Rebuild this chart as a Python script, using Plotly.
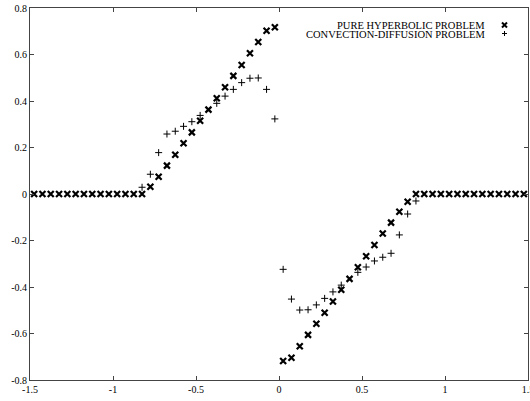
import plotly.graph_objects as go

# grid (cell centres)
x_left_zero = [-1.475, -1.425, -1.375, -1.325, -1.275, -1.225, -1.175, -1.125,
               -1.075, -1.025, -0.975, -0.925, -0.875, -0.825]
x_left = [-0.775, -0.725, -0.675, -0.625, -0.575, -0.525, -0.475, -0.425,
          -0.375, -0.325, -0.275, -0.225, -0.175, -0.125, -0.075, -0.025]
x_right = [0.025, 0.075, 0.125, 0.175, 0.225, 0.275, 0.325, 0.375,
           0.425, 0.475, 0.525, 0.575, 0.625, 0.675, 0.725, 0.775]
x_right_zero = [0.825, 0.875, 0.925, 0.975, 1.025, 1.075, 1.125, 1.175,
                1.225, 1.275, 1.325, 1.375, 1.425, 1.475]

# pure hyperbolic problem
hyp_left = [0.031, 0.074, 0.122, 0.169, 0.218, 0.265, 0.315, 0.363,
            0.412, 0.459, 0.508, 0.555, 0.605, 0.654, 0.702, 0.717]
hyp_right = [-0.718, -0.704, -0.655, -0.606, -0.558, -0.511, -0.462, -0.412,
             -0.365, -0.315, -0.268, -0.219, -0.170, -0.123, -0.076, -0.033]
hyp_x = x_left_zero + x_left + x_right + x_right_zero
hyp_y = [0.0] * len(x_left_zero) + hyp_left + hyp_right + [0.0] * len(x_right_zero)

# convection-diffusion problem (visible points)
cd_x = [-0.825, -0.775, -0.725, -0.675, -0.625, -0.575, -0.525, -0.475,
        -0.375, -0.325, -0.275, -0.225, -0.175, -0.125, -0.075, -0.025,
        0.025, 0.075, 0.125, 0.175, 0.225, 0.275, 0.325, 0.375,
        0.475, 0.525, 0.575, 0.625, 0.675, 0.725, 0.775, 0.825]
cd_y = [0.029, 0.085, 0.178, 0.258, 0.270, 0.291, 0.311, 0.338,
        0.390, 0.421, 0.450, 0.479, 0.498, 0.499, 0.450, 0.323,
        -0.324, -0.452, -0.499, -0.498, -0.477, -0.449, -0.421, -0.392,
        -0.337, -0.314, -0.288, -0.272, -0.255, -0.176, -0.086, -0.030]

legend_labels = ["PURE HYPERBOLIC PROBLEM", "CONVECTION-DIFFUSION PROBLEM"]

x_ticks = [-1.5, -1, -0.5, 0, 0.5, 1, 1.5]
x_ticktext = ["-1.5", "-1", "-0.5", "0", "0.5", "1", "1.5"]
y_ticks = [-0.8, -0.6, -0.4, -0.2, 0, 0.2, 0.4, 0.6, 0.8]
y_ticktext = ["-0.8", "-0.6", "-0.4", "-0.2", "0", "0.2", "0.4", "0.6", "0.8"]

FONT = "Liberation Serif"

fig = go.Figure()
fig.add_trace(go.Scatter(
    x=hyp_x, y=hyp_y, mode="markers", name=legend_labels[0],
    marker=dict(symbol="x-thin", size=6, color="black",
                line=dict(width=2.2, color="black")),
    showlegend=False))
fig.add_trace(go.Scatter(
    x=cd_x, y=cd_y, mode="markers", name=legend_labels[1],
    marker=dict(symbol="cross-thin", size=5, color="black",
                line=dict(width=1, color="black")),
    showlegend=False))

L, R, T, B = 30, 2, 8, 21
W, H = 530, 401
pw, ph = W - L - R, H - T - B


def px2paper(px, py):
    return (px - L) / pw, (H - B - py) / ph


shapes = []
annotations = []
rows = [(25, "x"), (33.5, "+")]
for (py, sym), label in zip(rows, legend_labels):
    tx, ty = px2paper(486, py)
    annotations.append(dict(x=tx, y=ty, xref="paper", yref="paper",
                            text=label, showarrow=False, xanchor="right",
                            yanchor="middle", height=8, valign="middle",
                            borderpad=0,
                            font=dict(family=FONT, size=10.5, color="black")))
    sx, sy = px2paper(504.5, py)
    if sym == "x":
        segs = [(-2.5, -2.5, 2.5, 2.5), (-2.5, 2.5, 2.5, -2.5)]
        w = 2
    else:
        segs = [(-2.5, 0, 2.5, 0), (0, -2.5, 0, 2.5)]
        w = 1
    for x0, y0, x1, y1 in segs:
        shapes.append(dict(type="line", xref="paper", yref="paper",
                           xsizemode="pixel", ysizemode="pixel",
                           xanchor=sx, yanchor=sy,
                           x0=x0, y0=y0, x1=x1, y1=y1,
                           line=dict(color="black", width=w)))

axis_common = dict(showgrid=False, zeroline=False, ticks="inside", ticklen=4,
                   tickcolor="#444", showline=True, linecolor="#444",
                   linewidth=1, mirror="ticks", ticklabeloverflow="allow",
                   tickfont=dict(family=FONT, size=10, color="black"))

fig.update_layout(
    width=W, height=H, margin=dict(l=L, r=R, t=T, b=B, autoexpand=False),
    paper_bgcolor="white", plot_bgcolor="white",
    xaxis=dict(range=[-1.5, 1.5], tickvals=x_ticks, ticktext=x_ticktext,
               **axis_common),
    yaxis=dict(range=[-0.8, 0.8], tickvals=y_ticks, ticktext=y_ticktext,
               **axis_common),
    shapes=shapes, annotations=annotations, showlegend=False)

fig.write_html("out.html")
